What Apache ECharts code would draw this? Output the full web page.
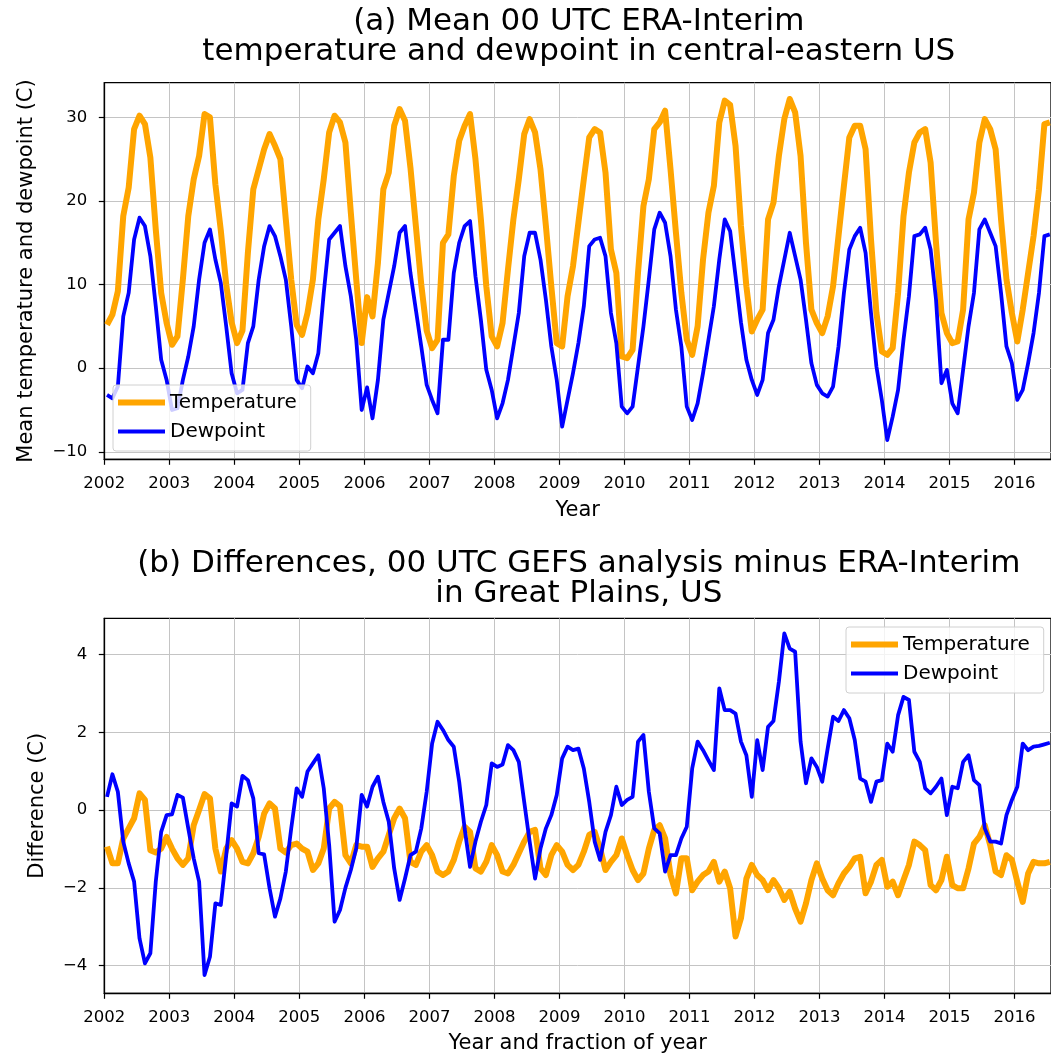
<!DOCTYPE html>
<html>
<head>
<meta charset="utf-8">
<script src="https://cdn.jsdelivr.net/npm/echarts@6/dist/echarts.min.js"></script>
<style>
  html, body { margin: 0; padding: 0; background: #fff; }
  #chart { width: 1051px; height: 1056px; }
</style>
</head>
<body>
<div id="chart"></div>
<script>
// monthly series, Jan 2002 .. Jul 2016
var startYear = 2002;
var xTicks = [2002, 2003, 2004, 2005, 2006, 2007, 2008, 2009, 2010, 2011, 2012, 2013, 2014, 2015, 2016];
var yTicksA = [-10, 0, 10, 20, 30];
var yTicksB = [-4, -2, 0, 2, 4];

// (a) mean temperature, C
var tempA = [
  5.2, 6.4, 9.2, 18.2, 21.6, 28.6, 30.2, 29.2, 25.2, 16.6, 9.0, 5.4,
  2.8, 3.8, 10.6, 18.2, 22.6, 25.4, 30.4, 30.0, 22.0, 16.5, 10.0, 5.5,
  3.0, 4.5, 13.8, 21.4, 23.8, 26.2, 28.0, 26.6, 25.0, 17.8, 10.6, 5.2,
  4.0, 6.6, 10.6, 17.8, 22.6, 28.2, 30.2, 29.4, 27.0, 18.6, 10.6, 3.0,
  8.5, 6.2, 12.6, 21.4, 23.4, 29.0, 31.0, 29.6, 24.0, 17.0, 10.0, 4.5,
  2.4, 3.4, 15.0, 16.0, 23.0, 27.2, 29.0, 30.4, 25.0, 17.8, 9.8, 3.8,
  2.6, 5.4, 11.8, 17.8, 22.6, 28.0, 29.8, 28.2, 23.8, 17.0, 9.8, 3.0,
  2.6, 8.6, 12.2, 17.4, 22.6, 27.6, 28.6, 28.2, 23.4, 14.2, 11.4, 1.4,
  1.2, 2.2, 11.4, 19.4, 22.6, 28.6, 29.4, 30.8, 23.8, 16.2, 9.0, 3.4,
  1.6, 5.0, 13.0, 18.6, 21.8, 29.4, 32.0, 31.5, 26.6, 17.0, 9.8, 4.4,
  5.8, 7.0, 17.8, 19.8, 25.4, 29.8, 32.2, 30.6, 25.4, 15.0, 7.0, 5.4,
  4.2, 6.2, 9.8, 15.8, 21.8, 27.6, 29.0, 29.0, 26.2, 15.4, 6.6, 2.0,
  1.6, 2.4, 9.0, 18.2, 23.4, 27.0, 28.2, 28.6, 24.6, 15.0, 6.6, 4.2,
  3.0, 3.2, 7.0, 17.8, 21.0, 27.0, 29.8, 28.6, 26.2, 17.8, 10.6, 6.6,
  3.2, 7.0, 11.4, 15.8, 21.4, 29.2, 29.4
];

// (a) mean dewpoint, C
var dewA = [
  -3.2, -3.6, -2.2, 6.2, 9.0, 15.4, 18.0, 17.0, 13.4, 7.4, 1.0, -1.4,
  -5.0, -4.8, -1.4, 1.4, 5.0, 10.6, 15.0, 16.6, 13.0, 10.2, 5.0, -0.6,
  -3.0, -2.6, 3.0, 5.0, 10.6, 14.6, 17.0, 15.8, 13.4, 10.6, 5.0, -1.4,
  -2.4, 0.2, -0.6, 1.8, 9.0, 15.4, 16.2, 17.0, 12.2, 8.6, 3.4, -5.0,
  -2.3, -6.0, -1.4, 5.8, 9.0, 12.2, 16.2, 17.0, 11.4, 7.0, 2.6, -2.0,
  -3.8, -5.4, 3.4, 3.4, 11.4, 15.0, 17.0, 17.6, 11.0, 5.8, -0.2, -2.6,
  -6.0, -4.2, -1.4, 2.6, 6.6, 13.4, 16.2, 16.2, 13.0, 8.2, 2.6, -1.4,
  -7.0, -3.8, -0.6, 3.0, 7.4, 14.6, 15.4, 15.6, 13.4, 6.6, 3.0, -4.6,
  -5.4, -4.6, 0.2, 5.0, 10.6, 16.6, 18.6, 17.4, 13.4, 7.0, 2.6, -4.6,
  -6.2, -4.2, -0.6, 3.4, 7.4, 13.0, 17.8, 16.4, 11.0, 5.5, 1.0, -1.4,
  -3.2, -1.4, 4.2, 5.8, 9.8, 13.0, 16.2, 13.4, 10.6, 5.8, 0.6, -2.0,
  -3.0, -3.4, -2.2, 2.6, 9.0, 14.2, 15.8, 16.8, 13.8, 6.6, 0.2, -3.8,
  -8.6, -5.8, -2.6, 3.4, 8.6, 15.8, 16.0, 16.8, 14.2, 8.2, -1.8, -0.2,
  -4.2, -5.4, -0.2, 5.0, 9.0, 16.6, 17.8, 16.2, 14.6, 9.0, 2.6, 0.6,
  -3.8, -2.6, 0.6, 4.2, 9.0, 15.8, 16.0
];

// (b) GEFS minus ERA-Interim, temperature
var tempB = [
  -0.94, -1.37, -1.37, -0.73, -0.47, -0.21, 0.43, 0.26, -1.03, -1.09, -0.99, -0.69,
  -0.99, -1.24, -1.41, -1.24, -0.39, 0.0, 0.41, 0.3, -0.99, -1.58, -0.99, -0.77,
  -0.99, -1.33, -1.37, -1.11, -0.69, -0.09, 0.17, 0.04, -0.99, -1.09, -0.9, -0.86,
  -0.99, -1.07, -1.54, -1.37, -0.99, 0.04, 0.21, 0.1, -1.16, -1.37, -0.9, -0.94,
  -0.94, -1.46, -1.24, -1.07, -0.64, -0.21, 0.04, -0.21, -1.33, -1.41, -1.07, -0.9,
  -1.16, -1.58, -1.67, -1.58, -1.28, -0.81, -0.43, -0.56, -1.5, -1.58, -1.33, -0.9,
  -1.16, -1.58, -1.63, -1.41, -1.11, -0.81, -0.56, -0.51, -1.5, -1.67, -1.16, -0.9,
  -1.07, -1.41, -1.54, -1.41, -1.07, -0.64, -0.56, -0.99, -1.54, -1.33, -1.16, -0.73,
  -1.16, -1.54, -1.8, -1.63, -0.99, -0.51, -0.39, -0.73, -1.67, -2.14, -1.24, -1.24,
  -2.06, -1.84, -1.67, -1.58, -1.33, -1.84, -1.58, -2.01, -3.25, -2.78, -1.76, -1.41,
  -1.67, -1.8, -2.06, -1.8, -2.01, -2.31, -2.1, -2.53, -2.87, -2.4, -1.8, -1.37,
  -1.76, -2.06, -2.19, -1.88, -1.63, -1.46, -1.24, -1.2, -2.14, -1.84, -1.41, -1.28,
  -1.97, -1.84, -2.19, -1.8, -1.41, -0.81, -0.9, -1.03, -1.93, -2.06, -1.8, -1.2,
  -1.93, -2.01, -2.01, -1.5, -0.86, -0.69, -0.39, -0.9, -1.58, -1.67, -1.16, -1.28,
  -1.84, -2.36, -1.63, -1.33, -1.37, -1.37, -1.33
];

// (b) GEFS minus ERA-Interim, dewpoint
var dewB = [
  0.34, 0.92, 0.47, -0.81, -1.37, -1.84, -3.3, -3.94, -3.68, -1.84, -0.56, -0.13,
  -0.11, 0.39, 0.32, -0.47, -1.24, -1.84, -4.24, -3.77, -2.4, -2.44, -1.16, 0.17,
  0.09, 0.88, 0.77, 0.3, -1.11, -1.14, -2.01, -2.74, -2.27, -1.58, -0.47, 0.56,
  0.34, 0.99, 1.2, 1.41, 0.56, -0.9, -2.87, -2.57, -2.0, -1.54, -0.98, 0.39,
  0.09, 0.6, 0.86, 0.21, -0.3, -1.5, -2.31, -1.76, -1.16, -1.07, -0.47, 0.47,
  1.71, 2.27, 2.06, 1.8, 1.63, 0.73, -0.47, -1.46, -0.81, -0.3, 0.13, 1.2,
  1.11, 1.17, 1.67, 1.54, 1.24, 0.21, -0.81, -1.76, -0.99, -0.47, -0.13, 0.39,
  1.33, 1.63, 1.54, 1.58, 1.07, 0.21, -0.81, -1.28, -0.56, -0.13, 0.6, 0.13,
  0.26, 0.34, 1.76, 1.93, 0.47, -0.47, -0.6, -1.58, -1.16, -1.16, -0.73, -0.43,
  1.07, 1.76, 1.54, 1.28, 1.03, 3.13, 2.57, 2.57, 2.48, 1.76, 1.41, 0.34,
  1.8, 1.03, 2.14, 2.29, 3.3, 4.54, 4.15, 4.07, 1.76, 0.69, 1.33, 1.11,
  0.73, 1.58, 2.4, 2.29, 2.57, 2.36, 1.8, 0.81, 0.73, 0.21, 0.73, 0.77,
  1.71, 1.5, 2.44, 2.91, 2.83, 1.5, 1.24, 0.56, 0.43, 0.6, 0.81, -0.13,
  0.6, 0.56, 1.24, 1.41, 0.77, 0.64, -0.47, -0.81, -0.81, -0.86, -0.13, 0.26,
  0.6, 1.71, 1.54, 1.63, 1.65, 1.69, 1.73
];

var FONT = 'DejaVu Sans';
var ORANGE = '#FFA500';
var BLUE = '#0000FF';

function toPairs(vals) {
  return vals.map(function (v, i) { return [startYear + (i + 0.5) / 12, v]; });
}

function fmtNum(v) {
  if (Math.abs(v - Math.round(v)) > 1e-6) return '';
  return String(Math.round(v)).replace('-', '\u2212');
}

function makeX(idx, name, gap) {
  return {
    type: 'value', gridIndex: idx, min: 2002, max: 2016.56, interval: 1,
    name: name, nameLocation: 'middle', nameGap: gap,
    nameTextStyle: { fontFamily: FONT, fontSize: 21, color: '#000' },
    axisLine: { show: true, onZero: false, lineStyle: { color: '#000', width: 1.3 } },
    axisTick: { show: true, length: 5.5, customValues: xTicks, lineStyle: { color: '#000', width: 1.2 } },
    axisLabel: { customValues: xTicks, formatter: fmtNum, margin: 16, fontFamily: FONT, fontSize: 16.5, color: '#000' },
    splitLine: { show: true, lineStyle: { color: '#c4c4c4', width: 1 } }
  };
}

function makeY(idx, min, max, ticks, name, gap) {
  return {
    type: 'value', gridIndex: idx, min: min, max: max, splitNumber: 5,
    name: name, nameLocation: 'middle', nameGap: gap,
    nameTextStyle: { fontFamily: FONT, fontSize: 21, color: '#000' },
    axisLine: { show: true, onZero: false, lineStyle: { color: '#000', width: 1.3 } },
    axisTick: { show: true, length: 5.5, customValues: ticks, lineStyle: { color: '#000', width: 1.2 } },
    axisLabel: { customValues: ticks, formatter: fmtNum, margin: 17, fontFamily: FONT, fontSize: 16.5, color: '#000' },
    splitLine: { show: true, lineStyle: { color: '#c4c4c4', width: 1 } }
  };
}

function makeLine(name, vals, color, width, idx) {
  return {
    name: name, type: 'line', xAxisIndex: idx, yAxisIndex: idx,
    data: toPairs(vals), symbol: 'none', showSymbol: false,
    lineStyle: { color: color, width: width, join: 'round' },
    itemStyle: { color: color }
  };
}

function makeLegend(left, top) {
  return {
    left: left, top: top, orient: 'vertical',
    data: [
      { name: 'Temperature', icon: 'path://M0,0L47,0L47,6L0,6Z' },
      { name: 'Dewpoint', icon: 'path://M0,0L47,0L47,4L0,4Z' }
    ],
    itemWidth: 47, itemHeight: 6, itemGap: 6, itemTextGap: 13,
    symbolKeepAspect: true,
    padding: [6, 14, 8, 5],
    backgroundColor: 'rgba(255,255,255,0.8)',
    borderColor: '#d0d0d0', borderWidth: 1, borderRadius: 3,
    textStyle: { fontFamily: FONT, fontSize: 20, color: '#000', lineHeight: 23 },
    selectedMode: false
  };
}

function titleText(x, y, text) {
  return {
    type: 'text', x: x, y: y,
    style: { text: text, fill: '#000', font: '31px "DejaVu Sans"', textAlign: 'center', textVerticalAlign: 'middle' }
  };
}

var chart = echarts.init(document.getElementById('chart'));
var option = {
  backgroundColor: '#fff',
  animation: false,
  graphic: [
    titleText(578.8, 22, '(a) Mean 00 UTC ERA-Interim'),
    titleText(578.8, 52, 'temperature and dewpoint in central-eastern US'),
    titleText(578.8, 564, '(b) Differences, 00 UTC GEFS analysis minus ERA-Interim'),
    titleText(578.8, 594, 'in Great Plains, US')
  ],
  grid: [
    { left: 104.3, top: 82.7, width: 949, height: 376.6, show: true, borderColor: '#000', borderWidth: 1.3, backgroundColor: 'transparent' },
    { left: 104.3, top: 618.3, width: 949, height: 375, show: true, borderColor: '#000', borderWidth: 1.3, backgroundColor: 'transparent' }
  ],
  xAxis: [makeX(0, 'Year', 41), makeX(1, 'Year and fraction of year', 40)],
  yAxis: [
    makeY(0, -10.9, 34.15, yTicksA, 'Mean temperature and dewpoint (C)', 67),
    makeY(1, -4.71, 4.93, yTicksB, 'Difference (C)', 56)
  ],
  legend: [makeLegend(113, 385), makeLegend(846, 627)],
  series: [
    makeLine('Temperature', tempA, ORANGE, 6, 0),
    makeLine('Dewpoint', dewA, BLUE, 3.8, 0),
    makeLine('Temperature', tempB, ORANGE, 6, 1),
    makeLine('Dewpoint', dewB, BLUE, 3.8, 1)
  ]
};
chart.setOption(option);
</script>
</body>
</html>
